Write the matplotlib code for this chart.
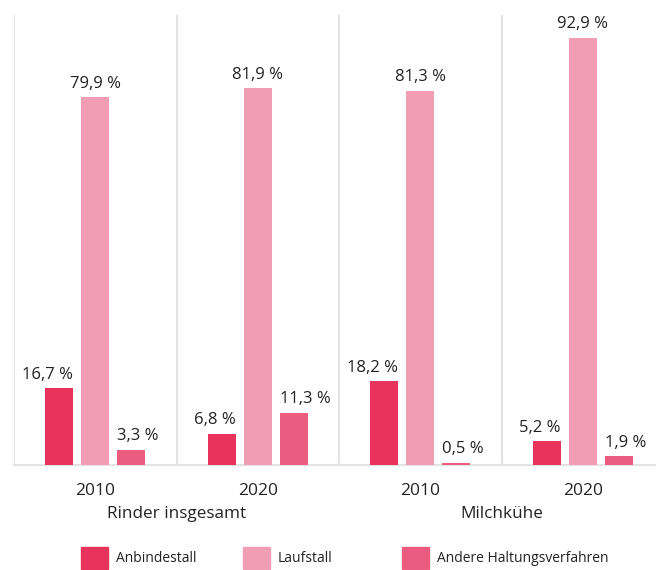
import matplotlib.pyplot as plt
from matplotlib.patches import Patch
import numpy as np

plt.rcParams['font.family'] = ['Open Sans', 'DejaVu Sans']

# data
years = ["2010", "2020", "2010", "2020"]
groups = ["Rinder insgesamt", "Milchkühe"]
series = ["Anbindestall", "Laufstall", "Andere Haltungsverfahren"]
anbindestall = [16.7, 6.8, 18.2, 5.2]
laufstall = [79.9, 81.9, 81.3, 92.9]
andere = [3.3, 11.3, 0.5, 1.9]

colors = ["#e8345c", "#f19db4", "#ec5c81"]
text_col = "#222222"
grid_col = "#e3e3e3"

W, H = 656, 570
fig = plt.figure(figsize=(W / 100, H / 100), dpi=100)
ax = fig.add_axes([14 / W, 1 - 465 / H, 650 / W, 450 / H])

x = np.arange(len(years))
width = 0.173
offsets = [-0.222, 0.0, 0.222]
# outer labels hug the outer bar edge so they stay clear of the tall middle bar
aligns = ["right", "center", "left"]

for vals, off, c, al in zip([anbindestall, laufstall, andere], offsets, colors, aligns):
    bars = ax.bar(x + off, vals, width, color=c, zorder=3)
    for b, v in zip(bars, vals):
        if al == "right":
            bx = b.get_x() + b.get_width()
        elif al == "left":
            bx = b.get_x()
        else:
            bx = b.get_x() + b.get_width() / 2
        ax.annotate(f"{v:.1f} %".replace(".", ","), (bx, v),
                    xytext=(0, 4), textcoords="offset points",
                    ha=al, va="bottom", fontsize=12, color=text_col)

ax.set_xlim(-0.5, 3.5)
ax.set_ylim(0, 97.8)

# light separators between the groups
for sep in [-0.5, 0.5, 1.5, 2.5]:
    ax.axvline(sep, color=grid_col, lw=1.5, zorder=1)

for s in ["top", "right", "left"]:
    ax.spines[s].set_visible(False)
ax.spines["bottom"].set_color(grid_col)
ax.spines["bottom"].set_linewidth(1.5)

ax.set_yticks([])
ax.set_xticks(x)
ax.set_xticklabels(years, fontsize=12.5, color=text_col)
ax.tick_params(axis="x", length=0, pad=13)

# group names under the year labels
for i, g in enumerate(groups):
    ax.text(2 * i + 0.5, -10.6, g, ha="center", va="center",
            fontsize=12.3, color=text_col)

# legend, one entry per column
leg_x = [81, 243, 402]
for lx, name, c in zip(leg_x, series, colors):
    fig.legend(handles=[Patch(color=c)], labels=[name],
               loc="center left", bbox_to_anchor=(lx / W, 1 - 558 / H),
               frameon=False, borderaxespad=0, borderpad=0,
               handlelength=1.95, handleheight=2.1, handletextpad=0.55,
               fontsize=10, labelcolor=text_col)

fig.savefig("out.png", dpi=100)
